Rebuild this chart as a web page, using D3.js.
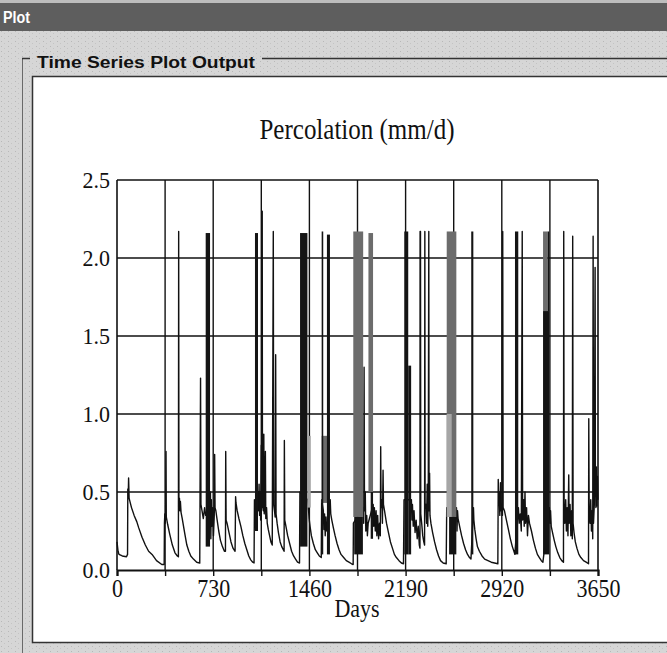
<!DOCTYPE html>
<html><head><meta charset="utf-8">
<script src="https://cdn.jsdelivr.net/npm/d3@7"></script>
<style>html,body{margin:0;padding:0;background:#d6d6d6;} svg{display:block}</style>
</head><body><svg id="c" width="667" height="653"></svg>
<script>
// ---------- data ----------
const windowTitle = "Plot";
const groupTitle = "Time Series Plot Output";
const chartTitle = "Percolation (mm/d)";
const xLabel = "Days";
const xTickValues = [0, 730, 1460, 2190, 2920, 3650];
const xYearTicks = [0, 365, 730, 1095, 1460, 1825, 2190, 2555, 2920, 3285, 3650];
const yTickValues = [0, 0.5, 1.0, 1.5, 2.0, 2.5];

// daily percolation (mm/d): [day, value]
const percolation = [
[0,0.18],[8,0.12],[15,0.10],[40,0.09],[72,0.085],[80,0.10],[82,0.52],[86,0.50],[88,0.59],[92,0.46],[95,0.45],[110,0.40],[130,0.35],[150,0.31],[165,0.27],[190,0.21],[215,0.16],[240,0.12],[266,0.10],[300,0.06],[340,0.035],
[358,0.035],[360,0.30],[363,0.36],[366,0.30],[369,0.37],[372,0.76],[374,0.34],[385,0.29],[400,0.23],[420,0.16],[440,0.11],[458,0.09],[466,0.085],[468,2.17],[470,0.40],[474,0.46],[477,0.38],[481,0.44],[486,0.37],[495,0.33],[505,0.28],[515,0.23],[530,0.16],[545,0.12],[560,0.09],[580,0.07],[605,0.05],[628,0.045],[630,0.46],[634,1.23],[637,0.42],[645,0.38],[655,0.33],[665,0.40],[673,0.35],
[706,0.38],[709,0.50],[712,0.20],[716,0.45],[720,0.28],[726,0.40],[732,0.22],[738,0.35],[741,0.74],[744,0.40],[750,0.38],[760,0.32],[772,0.25],[785,0.19],[800,0.15],[815,0.12],[823,0.12],[825,0.76],[828,0.32],[835,0.30],[850,0.24],[865,0.18],[880,0.14],[896,0.12],[900,0.47],[903,0.43],[912,0.38],[925,0.33],[940,0.28],[955,0.22],[970,0.17],[985,0.13],[1000,0.09],[1015,0.065],[1030,0.05],[1040,0.045],
[1043,0.45],[1047,0.40],[1070,0.50],[1074,0.38],[1078,0.55],[1082,0.35],[1086,0.50],[1090,0.32],[1095,0.80],[1098,0.40],[1102,2.30],[1104,0.42],[1110,0.38],[1114,0.87],[1117,0.36],[1122,0.42],[1126,0.76],[1129,0.33],[1135,0.40],[1140,0.30],[1148,0.26],[1158,0.22],[1168,0.18],[1178,0.16],[1186,2.17],[1189,0.42],[1195,0.38],[1200,0.34],[1204,1.38],[1207,0.36],[1215,0.30],[1225,0.24],[1238,0.18],[1250,0.15],[1262,0.13],[1268,0.12],[1270,0.83],[1273,0.32],[1282,0.28],[1295,0.22],[1310,0.17],[1325,0.12],[1340,0.09],[1355,0.07],[1370,0.05],[1385,0.045],
[1388,0.50],[1447,0.45],[1452,0.40],[1458,0.33],[1465,0.28],[1475,0.22],[1490,0.17],[1505,0.13],[1520,0.11],[1535,0.09],[1550,0.08],[1553,0.45],[1566,0.38],[1570,0.26],[1575,0.36],[1580,0.22],[1586,0.34],[1592,0.25],[1618,0.45],[1622,0.36],[1630,0.32],[1642,0.27],[1655,0.22],[1670,0.17],[1685,0.13],[1700,0.10],[1720,0.08],[1740,0.06],[1760,0.05],[1780,0.04],[1792,0.035],
[1794,0.30],[1868,0.40],[1872,0.30],[1875,1.30],[1878,0.38],[1884,0.50],[1888,0.25],[1895,0.35],[1900,0.22],[1906,0.30],[1944,0.42],[1948,0.28],[1953,0.40],[1960,0.25],[1966,0.38],[1972,0.22],[1978,0.35],[1985,0.20],[1992,0.30],[1998,0.22],[2001,0.79],[2004,0.40],[2010,0.45],[2014,0.30],[2019,0.64],[2022,0.42],[2030,0.38],[2045,0.30],[2060,0.24],[2075,0.18],[2090,0.14],[2105,0.10],[2120,0.08],[2140,0.06],[2158,0.045],[2174,0.04],
[2178,0.45],[2234,0.45],[2238,0.32],[2242,0.42],[2248,0.28],[2254,0.38],[2262,0.24],[2270,0.32],[2278,0.20],[2286,0.28],[2294,0.16],[2299,0.14],[2300,2.17],[2303,2.17],[2305,0.36],[2312,0.30],[2320,0.22],[2328,0.18],[2334,0.16],[2336,2.17],[2338,0.40],[2344,0.42],[2349,0.30],[2354,0.55],[2358,0.28],[2362,0.45],[2366,2.17],[2368,0.38],[2372,0.62],[2375,0.35],[2382,0.30],[2395,0.24],[2410,0.18],[2425,0.13],[2440,0.09],[2455,0.06],[2475,0.045],[2498,0.04],
[2502,0.40],[2576,0.40],[2580,0.25],[2584,0.38],[2588,0.33],[2600,0.28],[2615,0.22],[2630,0.17],[2645,0.13],[2660,0.10],[2675,0.08],[2686,0.07],[2705,0.40],[2708,0.32],[2715,0.26],[2725,0.20],[2735,0.15],[2750,0.12],[2770,0.09],[2790,0.07],[2815,0.06],[2840,0.05],[2865,0.045],[2890,0.04],[2893,0.58],[2896,0.42],[2900,0.50],[2905,0.35],[2910,0.56],[2914,0.38],[2920,0.42],[2925,0.35],[2927,2.17],[2930,0.40],[2940,0.38],[2955,0.32],[2970,0.26],[2985,0.20],[3000,0.15],[3012,0.12],[3019,0.10],
[3046,0.40],[3052,0.30],[3060,0.36],[3068,0.25],[3075,2.17],[3078,0.32],[3085,0.45],[3090,0.28],[3096,0.50],[3100,0.30],[3108,0.40],[3115,0.22],[3122,0.35],[3130,0.30],[3145,0.25],[3160,0.19],[3175,0.14],[3190,0.10],[3205,0.08],[3220,0.06],[3232,0.05],
[3281,0.40],[3285,0.30],[3290,0.38],[3295,0.28],[3305,0.24],[3318,0.19],[3330,0.15],[3345,0.11],[3360,0.08],[3375,0.06],[3388,0.05],[3390,2.17],[3393,0.40],[3398,0.30],[3405,0.45],[3410,0.25],[3416,0.40],[3422,0.22],[3428,0.61],[3431,0.30],[3438,0.42],[3444,0.22],[3450,0.38],[3455,0.20],[3458,2.14],[3461,0.30],[3468,0.24],[3478,0.18],[3490,0.14],[3505,0.10],[3520,0.08],[3540,0.06],[3560,0.05],[3578,0.04],[3580,0.97],[3583,0.40],[3590,0.30],[3595,0.45],[3600,0.25],[3606,0.38],[3610,0.20],[3613,2.14],[3616,0.30],[3622,0.42],[3628,1.94],[3630,0.66],[3634,0.40],[3638,0.66],[3642,0.41],[3646,0.60],[3650,0.45]
];

// periods where daily values oscillate so densely they print as solid bands:
// [startDay, endDay, low, high, shade]
const denseBands = [
[673,706,0.15,2.16,"dark"],
[1047,1070,0.25,2.16,"dark"],
[1389,1445,0.15,2.16,"dark"],
[1445,1470,0.40,0.86,"light"],
[1553,1616,0.43,0.86,"grey"],
[1553,1565,0.10,2.17,"dark"],
[1593,1616,0.10,2.15,"dark"],
[1793,1868,0.34,2.17,"grey"],
[1800,1866,0.10,0.34,"dark"],
[1908,1943,0.50,2.16,"grey"],
[1925,1943,0.20,0.50,"dark"],
[2180,2210,0.10,2.17,"dark"],
[2210,2232,0.10,1.31,"dark"],
[2502,2575,0.34,2.17,"grey"],
[2502,2540,0.34,1.00,"light"],
[2520,2575,0.10,0.34,"dark"],
[2688,2704,0.10,2.17,"dark"],
[3020,3045,0.10,2.17,"dark"],
[3233,3280,0.10,1.66,"dark"],
[3233,3268,1.66,2.17,"grey"],
[3268,3280,1.66,2.17,"dark"]
];

// ---------- drawing ----------
const shadeColor = {dark:"#141414", grey:"#6c6c6c", light:"#a6a6a6"};
const svg = d3.select("#c");
const W = 667, H = 653;
const serif = "'Liberation Serif','Times New Roman',serif";
const sans = "'Liberation Sans',Arial,sans-serif";

// background
svg.append("rect").attr("width", W).attr("height", H).attr("fill", "#d6d6d6");
const defs = svg.append("defs");
const pat = defs.append("pattern").attr("id","spk").attr("width",7).attr("height",5).attr("patternUnits","userSpaceOnUse");
pat.append("rect").attr("x",1).attr("y",1).attr("width",1).attr("height",1).attr("fill","#b8b8b8");
pat.append("rect").attr("x",4).attr("y",3).attr("width",1).attr("height",1).attr("fill","#c4c4c4");
svg.append("rect").attr("width", W).attr("height", H).attr("fill", "url(#spk)");

// top strip and title bar
svg.append("rect").attr("x",0).attr("y",0).attr("width",W).attr("height",3).attr("fill","#bdbdbd");
svg.append("rect").attr("x",0).attr("y",3).attr("width",W).attr("height",28).attr("fill","#5e5e5e");
svg.append("text").attr("x",3).attr("y",23).attr("fill","#fff")
  .attr("font-family",sans).attr("font-weight","bold").attr("font-size",16)
  .attr("textLength",27).attr("lengthAdjust","spacingAndGlyphs").text(windowTitle);

// group box
svg.append("line").attr("x1",22.5).attr("x2",22.5).attr("y1",58).attr("y2",H).attr("stroke","#6a6a6a").attr("stroke-width",1);
svg.append("line").attr("x1",22).attr("x2",30).attr("y1",58.5).attr("y2",58.5).attr("stroke","#333").attr("stroke-width",1.5);
svg.append("line").attr("x1",262).attr("x2",W).attr("y1",58.5).attr("y2",58.5).attr("stroke","#333").attr("stroke-width",1.5);
svg.append("text").attr("transform","translate(37,68) scale(1,1.12)").attr("fill","#111")
  .attr("font-family",sans).attr("font-weight","bold").attr("font-size",15)
  .attr("textLength",218).attr("lengthAdjust","spacingAndGlyphs").text(groupTitle);

// white panel
svg.append("rect").attr("x",32.5).attr("y",76.5).attr("width",650).attr("height",566)
  .attr("fill","#fff").attr("stroke","#333").attr("stroke-width",1.5);

// scales
const x = d3.scaleLinear().domain([0, 3650]).range([117, 598]);
const y = d3.scaleLinear().domain([0, 2.5]).range([570, 180]);

const g = svg.append("g");

// title
g.append("text").attr("transform","translate(357,139) scale(1,1.2)").attr("text-anchor","middle")
  .attr("font-family",serif).attr("font-size",25).attr("fill","#111").text(chartTitle);

// grid
g.append("g").selectAll("line").data(xYearTicks.slice(1, -1)).join("line")
  .attr("x1",d=>x(d)).attr("x2",d=>x(d)).attr("y1",y(2.5)).attr("y2",y(0))
  .attr("stroke","#111").attr("stroke-width",1.4);
g.append("g").selectAll("line").data(yTickValues.slice(1, -1)).join("line")
  .attr("x1",x(0)).attr("x2",x(3650)).attr("y1",d=>y(d)).attr("y2",d=>y(d))
  .attr("stroke","#111").attr("stroke-width",1.6);

// series line
const line = d3.line().x(d=>x(d[0])).y(d=>y(d[1]));
g.append("path").datum(percolation).attr("d",line)
  .attr("fill","none").attr("stroke","#111").attr("stroke-width",1.4).attr("stroke-linejoin","round");

// dense bands
g.append("g").selectAll("rect").data(denseBands).join("rect")
  .attr("x",d=>x(d[0])).attr("width",d=>x(d[1])-x(d[0]))
  .attr("y",d=>y(d[3])).attr("height",d=>y(d[2])-y(d[3]))
  .attr("fill",d=>shadeColor[d[4]]);

// frame
g.append("line").attr("x1",x(0)).attr("x2",x(3650)).attr("y1",y(2.5)).attr("y2",y(2.5)).attr("stroke","#111").attr("stroke-width",1.6);
g.append("line").attr("x1",x(3650)).attr("x2",x(3650)).attr("y1",y(2.5)).attr("y2",y(0)).attr("stroke","#111").attr("stroke-width",1.6);
g.append("line").attr("x1",x(0)).attr("x2",x(0)).attr("y1",y(2.5)).attr("y2",y(0)).attr("stroke","#111").attr("stroke-width",1.6);

// axes
const yAxis = d3.axisLeft(y).tickValues(yTickValues).tickFormat(d3.format(".1f")).tickSize(0).tickPadding(7);
const ya = g.append("g").attr("transform",`translate(${x(0)},0)`).call(yAxis);
ya.select(".domain").remove();
ya.selectAll("text").attr("font-family",serif).attr("font-size",22).attr("fill","#111")
  .attr("transform","scale(1,1.08)");

const xAxis = d3.axisBottom(x).tickValues(xYearTicks).tickSize(6).tickPadding(3)
  .tickFormat(d => xTickValues.includes(d) ? String(d) : "");
const xa = g.append("g").attr("transform",`translate(0,${y(0)})`).call(xAxis);
xa.select(".domain").attr("stroke","#111").attr("stroke-width",2.2);
xa.selectAll(".tick line").attr("stroke","#111").attr("stroke-width",1.4);
xa.selectAll("text").attr("font-family",serif).attr("font-size",22).attr("fill","#111")
  .attr("transform","scale(1,1.1)");

g.append("text").attr("transform","translate(357,617) scale(1,1.15)").attr("text-anchor","middle")
  .attr("font-family",serif).attr("font-size",22).attr("fill","#111").text(xLabel);
</script></body></html>
